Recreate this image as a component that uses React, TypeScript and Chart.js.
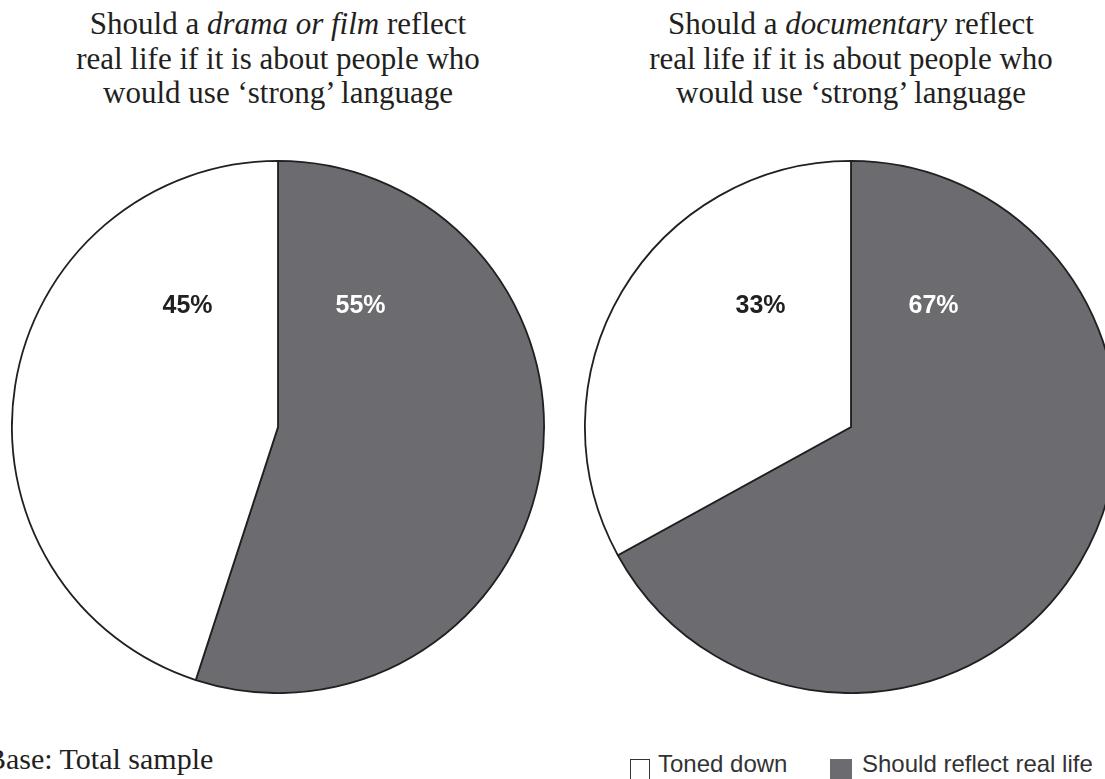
import { useEffect, useRef } from "react";
import { Chart, registerables } from "chart.js";

Chart.register(...registerables);

const categories = ["Should reflect real life", "Toned down"];
const dramaValues = [55, 45];
const documentaryValues = [67, 33];
const sliceColors = ["#6b6b70", "#ffffff"];
const labelColors = ["#ffffff", "#231f20"];
const legendOrder = [1, 0];

const dramaTitle = ["Should a ", "drama or film", " reflect"];
const docTitle = ["Should a ", "documentary", " reflect"];
const titleRest = ["real life if it is about people who", "would use \u2018strong\u2019 language"];
const baseNote = "Base: Total sample";

const labelPlugin = {
  id: "pctLabels",
  afterDatasetsDraw(chart: any) {
    const meta = chart.getDatasetMeta(0);
    const ds = chart.data.datasets[0];
    const ctx = chart.ctx;
    ctx.save();
    ctx.font = "bold 25px 'Liberation Sans', Arial, sans-serif";
    ctx.textAlign = "center";
    ctx.textBaseline = "middle";
    meta.data.forEach((arc: any, i: number) => {
      const { x, y, outerRadius } = arc.getProps(["x", "y", "outerRadius"], true);
      const dx = i === 0 ? 0.31 : -0.34;
      ctx.fillStyle = labelColors[i];
      ctx.fillText(ds.data[i] + "%", x + dx * outerRadius, y - 0.455 * outerRadius);
    });
    ctx.restore();
  },
};

function PieChart({ values, left }: { values: number[]; left: number }) {
  const ref = useRef<HTMLCanvasElement>(null);
  useEffect(() => {
    if (!ref.current) return;
    const chart = new Chart(ref.current, {
      type: "pie",
      data: {
        labels: categories,
        datasets: [
          {
            data: values,
            backgroundColor: sliceColors,
            borderColor: "#231f20",
            borderWidth: 1.8,
          },
        ],
      },
      options: {
        responsive: false,
        animation: false,
        layout: { padding: 0 },
        plugins: { legend: { display: false }, tooltip: { enabled: false } },
      },
      plugins: [labelPlugin],
    });
    return () => chart.destroy();
  }, [values]);
  return (
    <canvas
      ref={ref}
      width={534}
      height={534}
      style={{ position: "absolute", left, top: 160, width: 534, height: 534 }}
    />
  );
}

function Title({ parts, center }: { parts: string[]; center: number }) {
  return (
    <div
      style={{
        position: "absolute",
        left: center - 300,
        width: 600,
        top: 7,
        textAlign: "center",
        fontFamily: "'Liberation Serif', serif",
        fontSize: 31,
        lineHeight: "34.5px",
        color: "#231f20",
      }}
    >
      <div>
        {parts[0]}
        <i>{parts[1]}</i>
        {parts[2]}
      </div>
      {titleRest.map((t) => (
        <div key={t}>{t}</div>
      ))}
    </div>
  );
}

export default function App() {
  return (
    <div
      style={{
        position: "fixed",
        left: 0,
        top: 0,
        width: 1105,
        height: 779,
        overflow: "hidden",
        background: "#ffffff",
      }}
    >
      <Title parts={dramaTitle} center={278} />
      <Title parts={docTitle} center={851} />
      <PieChart values={dramaValues} left={11} />
      <PieChart values={documentaryValues} left={584} />
      <div
        style={{
          position: "absolute",
          left: -14,
          top: 742,
          fontFamily: "'Liberation Serif', serif",
          fontSize: 30,
          lineHeight: "33px",
          color: "#231f20",
          whiteSpace: "nowrap",
        }}
      >
        {baseNote}
      </div>
      {legendOrder.map((idx, k) => (
        <div
          key={idx}
          style={{
            position: "absolute",
            left: k === 0 ? 630 : 830,
            top: 750,
            display: "flex",
            alignItems: "flex-start",
            whiteSpace: "nowrap",
            fontFamily: "'Liberation Sans', Arial, sans-serif",
            fontSize: 24,
            lineHeight: "28px",
            color: "#333333",
          }}
        >
          <span
            style={{
              display: "inline-block",
              width: idx === 1 ? 20 : 22,
              height: 30,
              marginTop: 9,
              boxSizing: "border-box",
              border: idx === 1 ? "1.5px solid #333" : "none",
              background: sliceColors[idx],
              marginRight: idx === 1 ? 8 : 10,
            }}
          />
          <span>{categories[idx]}</span>
        </div>
      ))}
    </div>
  );
}
